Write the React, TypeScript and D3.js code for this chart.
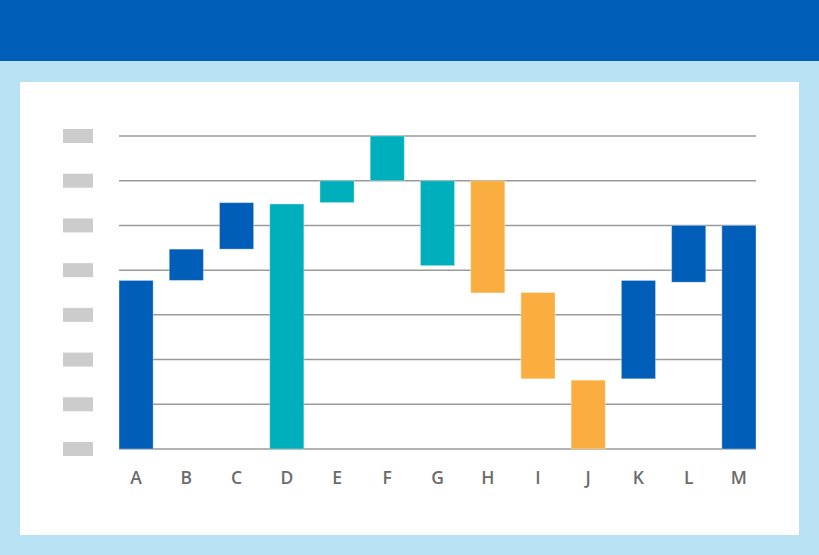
import React from "react";
import * as d3 from "d3";

const categories = ["A", "B", "C", "D", "E", "F", "G", "H", "I", "J", "K", "L", "M"];
const barStart = [0, 3.77, 4.47, 0, 5.51, 6, 6, 6, 3.5, 1.54, 1.57, 3.73, 0];
const barEnd = [3.77, 4.47, 5.51, 5.48, 6, 7, 4.1, 3.49, 1.57, 0, 3.77, 5, 5];
const barKind = ["total", "total", "total", "up", "up", "up", "up", "down", "down", "down", "total", "total", "total"];
const gridValues = [0, 1, 2, 3, 4, 5, 6, 7];

const colors: Record<string, string> = {
  total: "#005eb8",
  up: "#00afbc",
  down: "#fbae40",
};

export default function App() {
  const W = 819;
  const H = 555;
  const x = d3.scaleBand<string>().domain(categories).range([119, 756]).paddingInner(0.32).paddingOuter(0);
  const y = d3.scaleLinear().domain([0, 7]).range([449, 136]);

  return (
    <svg width={W} height={H} style={{ position: "absolute", left: 0, top: 0 }}>
      <rect x={0} y={0} width={W} height={H} fill="#b8e1f3" />
      <rect x={0} y={0} width={W} height={61} fill="#005eb8" />
      <rect x={20} y={82} width={779} height={453} fill="#ffffff" />
      {gridValues.map((v) => (
        <g key={v}>
          <rect x={63} y={y(v) - 7} width={30} height={14} fill="#cccccc" />
          <line x1={119} x2={756} y1={y(v)} y2={y(v)} stroke="#9a9a9a" strokeWidth={1.5} />
        </g>
      ))}
      {categories.map((c, i) => {
        const top = Math.max(barStart[i], barEnd[i]);
        const bot = Math.min(barStart[i], barEnd[i]);
        return (
          <rect
            key={c}
            x={x(c)}
            y={y(top)}
            width={x.bandwidth()}
            height={y(bot) - y(top)}
            fill={colors[barKind[i]]}
            stroke="#ffffff"
            strokeOpacity={0.35}
            strokeWidth={1}
          />
        );
      })}
      {categories.map((c) => (
        <text
          key={c}
          x={(x(c) as number) + x.bandwidth() / 2}
          y={484}
          textAnchor="middle"
          fontFamily="'Open Sans', sans-serif"
          fontSize={17.5}
          fontWeight={600}
          fill="#6b6b6b"
        >
          {c}
        </text>
      ))}
    </svg>
  );
}
